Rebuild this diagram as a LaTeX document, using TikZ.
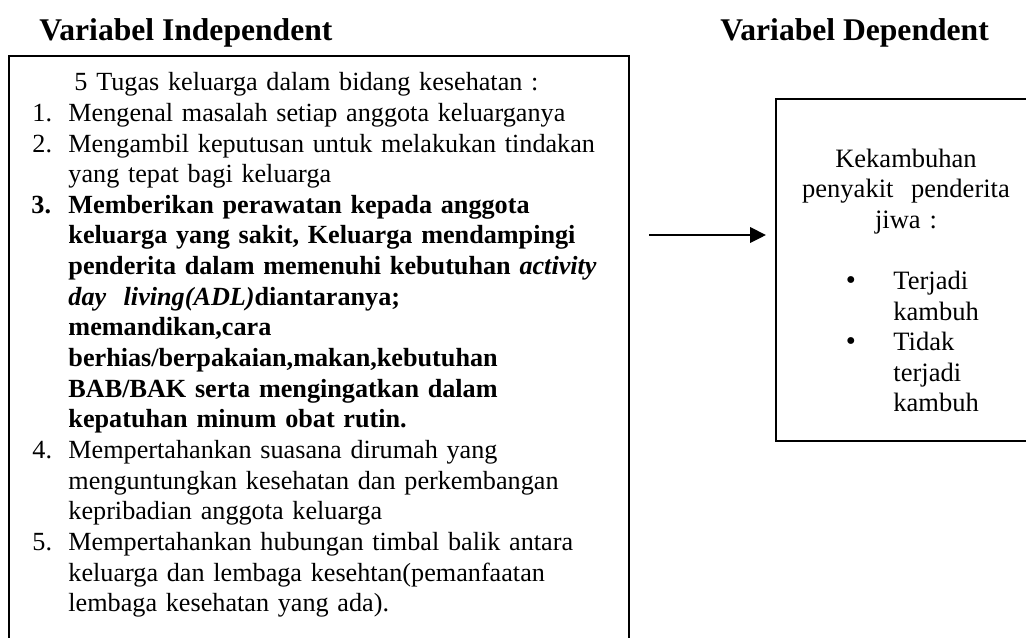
\documentclass[tikz,border=0pt]{standalone}
\usepackage{fontspec}
\setmainfont{Liberation Serif}
\usetikzlibrary{arrows.meta}
\tikzset{every picture/.style={x=0.4525pt,y=-0.4525pt}}
\tikzset{heading/.style={font=\fontsize{14.3}{16}\selectfont\bfseries,anchor=base west,inner sep=0pt}}
\tikzset{body/.style={font=\fontsize{11.85}{13.87}\selectfont,anchor=base west,inner sep=0pt,align=left,text width=290pt}}
\tikzset{bodybold/.style={body,font=\fontsize{11.85}{13.87}\selectfont\bfseries}}
\tikzset{num/.style={font=\fontsize{11.85}{13.87}\selectfont,anchor=base west,inner sep=0pt}}
\tikzset{side/.style={body,font=\fontsize{12}{13.87}\selectfont}}
\tikzset{dot/.style={font=\fontsize{13}{13.87}\selectfont,anchor=base,inner sep=0pt}}
\tikzset{box/.style={draw,line width=0.9pt,anchor=north west,inner sep=0pt,outer sep=0pt}}
\tikzset{link/.style={-{Triangle[length=7.2pt,width=7pt]},line width=0.9pt}}

\begin{document}
\begin{tikzpicture}
\useasboundingbox (0,0) rectangle (1026,637);

\node [heading] (indeptitle) at (39,40) {Variabel Independent};
\node [heading] (deptitle) at (720,40) {Variabel Dependent};

\node [box,minimum width=280.6pt,minimum height=290pt] (indep) at (9,56) {};
\node [box,minimum width=120pt,minimum height=154.8pt] (dep) at (776,99) {};

\node [body] (tasks) at (74,90.7) {5 Tugas keluarga dalam bidang kesehatan :};
\node [num] (n1) at (32,121.4) {1.};
\node [body] (t1) at (68,121.4) {Mengenal masalah setiap anggota keluarganya};
\node [num] (n2) at (32,152.0) {2.};
\node [body] (t2) at (68,152.0) {Mengambil keputusan untuk melakukan tindakan\\
yang tepat bagi keluarga};
\node [num,font=\fontsize{11.85}{13.87}\selectfont\bfseries] (n3) at (31,213.3) {3.};
\node [bodybold] (t3) at (68,213.3) {Memberikan perawatan kepada anggota\\
keluarga yang sakit, Keluarga mendampingi\\
penderita dalam memenuhi kebutuhan \textit{activity}\\
\textit{day\ \ living(ADL)}diantaranya;\\
memandikan,cara\\
berhias/berpakaian,makan,kebutuhan\\
BAB/BAK serta mengingatkan dalam\\
kepatuhan minum obat rutin.};
\node [num] (n4) at (32,458.5) {4.};
\node [body] (t4) at (68,458.5) {Mempertahankan suasana dirumah yang\\
menguntungkan kesehatan dan perkembangan\\
kepribadian anggota keluarga};
\node [num] (n5) at (32,550.5) {5.};
\node [body] (t5) at (68,550.5) {Mempertahankan hubungan timbal balik antara\\
keluarga dan lembaga kesehtan(pemanfaatan\\
lembaga kesehatan yang ada).};

\node [side,anchor=base,align=center,text width=110pt] (relapse) at (906,167) {Kekambuhan\\
penyakit\ \ penderita\\
jiwa :};
\node [dot] (b1) at (851,289.4) {•};
\node [side] (r1) at (893,289.4) {Terjadi\\
kambuh};
\node [dot] (b2) at (851,350.6) {•};
\node [side] (r2) at (893,350.6) {Tidak\\
terjadi\\
kambuh};

\coordinate (tail) at (649,235);
\coordinate (head) at (766,235);
\draw [link] (tail) -- (head);
\end{tikzpicture}
\end{document}
